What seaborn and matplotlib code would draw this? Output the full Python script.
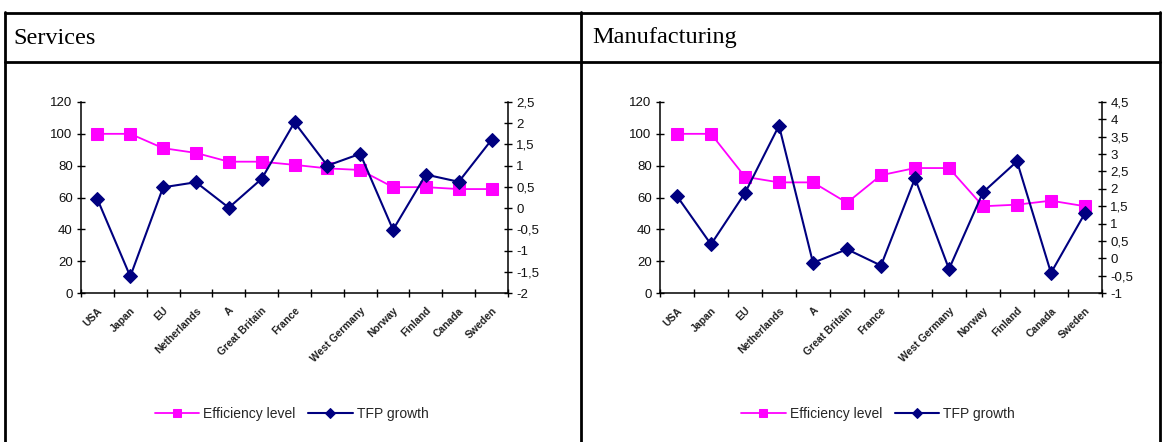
import matplotlib
matplotlib.use("Agg")
import matplotlib.pyplot as plt
from matplotlib.ticker import FixedLocator, FuncFormatter, NullFormatter
from matplotlib.lines import Line2D
import numpy as np
import pandas as pd
import seaborn as sns

# Countries along the category axis
countries = ["USA", "Japan", "EU", "Netherlands", "A", "Great Britain", "France",
             "", "West Germany", "Norway", "Finland", "Canada", "Sweden"]

# Services
services_efficiency = [100, 100, 91, 88, 82.5, 82.5, 80.5, 78.3, 77.3, 66.5, 66.5, 65.3, 65.3]
services_tfp = [0.21, -1.61, 0.49, 0.61, 0.01, 0.69, 2.02, 1.0, 1.28, -0.51, 0.79, 0.62, 1.61]

# Manufacturing
manuf_efficiency = [100, 100, 73, 69.5, 69.5, 56.7, 74, 78.5, 78.5, 54.5, 55.5, 58, 54.5]
manuf_tfp = [1.79, 0.40, 1.88, 3.82, -0.13, 0.26, -0.21, 2.30, -0.31, 1.90, 2.79, -0.42, 1.30]

panel_titles = ["Services", "Manufacturing"]
series_names = ["Efficiency level", "TFP growth"]

PINK = "#FF00FF"
NAVY = "#000080"

sns.set_theme(style="white")
plt.rcParams["font.family"] = ["Liberation Sans", "DejaVu Sans"]

W, H = 1165, 442
fig = plt.figure(figsize=(W / 100, H / 100), dpi=100)


def fx(px):
    return px / W


def fy(py):
    return 1 - py / H


# Table frame around the two panels
frame_kw = dict(color="black", lw=2.0, transform=fig.transFigure, clip_on=False)
fig.add_artist(Line2D([fx(5), fx(1160)], [fy(13), fy(13)], **frame_kw))
fig.add_artist(Line2D([fx(5), fx(1160)], [fy(62), fy(62)], **frame_kw))
for xp in (5, 581, 1160):
    fig.add_artist(Line2D([fx(xp), fx(xp)], [fy(12), fy(445)], **frame_kw))

fig.text(fx(13), fy(38), panel_titles[0], family="Liberation Serif", fontsize=17.5,
         va="center", ha="left", color="black")
fig.text(fx(592), fy(38), panel_titles[1], family="Liberation Serif", fontsize=17.5,
         va="center", ha="left", color="black")


def fmt_comma(v, pos=None):
    return f"{v:g}".replace(".", ",")


def panel(left_px, right_px, eff, tfp, rlim, rstep):
    n = len(countries)
    ax = fig.add_axes([fx(left_px), fy(293), fx(right_px - left_px), (293 - 102) / H])
    df = pd.DataFrame({"x": np.arange(n), "eff": eff, "tfp": tfp})
    sns.lineplot(data=df, x="x", y="eff", ax=ax, color=PINK, marker="s",
                 markersize=8.5, markeredgecolor=PINK, lw=1.3, label=series_names[0],
                 legend=False)
    ax2 = ax.twinx()
    sns.lineplot(data=df, x="x", y="tfp", ax=ax2, color=NAVY, marker="D",
                 markersize=7, markeredgecolor=NAVY, lw=1.5, label=series_names[1],
                 legend=False)

    ax.set_xlim(-0.5, n - 0.5)
    ax.set_ylim(0, 120)
    ax.set_yticks(np.arange(0, 121, 20))
    ax2.set_ylim(*rlim)
    ax2.set_yticks(np.arange(rlim[0], rlim[1] + 1e-9, rstep))
    ax2.yaxis.set_major_formatter(FuncFormatter(fmt_comma))

    # category boundaries carry the tick marks, centres carry the labels
    ax.xaxis.set_major_locator(FixedLocator(np.arange(-0.5, n, 1.0)))
    ax.xaxis.set_major_formatter(NullFormatter())
    ax.xaxis.set_minor_locator(FixedLocator(np.arange(n)))
    ax.set_xticklabels(countries, minor=True, rotation=45, ha="right",
                       rotation_mode="anchor", fontsize=7.5, fontweight="bold",
                       color="#222222")
    ax.tick_params(axis="x", which="minor", length=0, pad=9)
    ax.tick_params(axis="x", which="major", direction="inout", length=6, width=1,
                   color="black", bottom=True)
    ax.tick_params(axis="y", direction="inout", length=6, width=1, color="black",
                   labelsize=9.5, left=True, pad=3, labelcolor="#111111")
    ax2.tick_params(axis="y", direction="inout", length=6, width=1, color="black",
                    labelsize=9.5, right=True, pad=3, labelcolor="#111111")
    ax.set_xlabel("")
    ax.set_ylabel("")
    ax2.set_ylabel("")

    for a in (ax, ax2):
        a.set_facecolor("none")
        a.grid(False)
        a.spines["top"].set_visible(False)
        for side in ("left", "right", "bottom"):
            a.spines[side].set_color("black")
            a.spines[side].set_linewidth(1.1)
    ax.spines["right"].set_visible(False)
    ax2.spines["left"].set_visible(False)
    ax2.spines["bottom"].set_visible(False)

    handles = [ax.get_lines()[0], ax2.get_lines()[0]]
    fig.legend(handles, series_names, loc="center",
               bbox_to_anchor=(fx((left_px + right_px) / 2 - 3), fy(414)),
               ncol=2, frameon=False, fontsize=10, handlelength=3.2,
               columnspacing=0.9, handletextpad=0.3, markerscale=0.75)
    return ax, ax2


panel(81, 508, services_efficiency, services_tfp, (-2, 2.5), 0.5)
panel(660, 1102, manuf_efficiency, manuf_tfp, (-1, 4.5), 0.5)

fig.savefig("out.png", dpi=100, facecolor="white")
